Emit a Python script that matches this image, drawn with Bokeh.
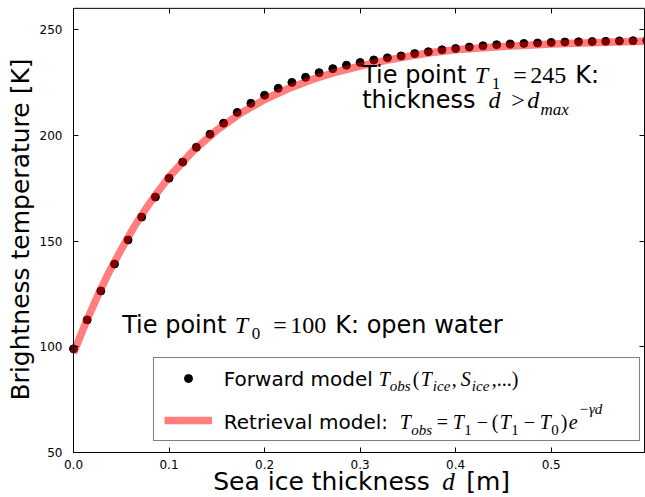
import math
from bokeh.plotting import figure
from bokeh.models import (Range1d, LinearAxis, FixedTicker, Label, Legend, LegendItem,
                          PrintfTickFormatter, CustomJSTickFormatter, BoxAnnotation)
from bokeh.embed import file_html
from bokeh.resources import INLINE

# ---- data ----
thickness_fwd = [0.0, 0.0143, 0.0286, 0.0429, 0.0571, 0.0714, 0.0857, 0.1, 0.1143, 0.1286,
                 0.1429, 0.1571, 0.1714, 0.1857, 0.2, 0.2143, 0.2286, 0.2429, 0.2571, 0.2714,
                 0.2857, 0.3, 0.3143, 0.3286, 0.3429, 0.3571, 0.3714, 0.3857, 0.4, 0.4143,
                 0.4286, 0.4429, 0.4571, 0.4714, 0.4857, 0.5, 0.5143, 0.5286, 0.5429, 0.5571,
                 0.5714, 0.5857, 0.6]
tb_fwd = [99.0, 112.7, 126.4, 139.1, 150.5, 161.3, 170.8, 179.7, 187.3, 194.3,
          200.5, 205.7, 210.8, 215.1, 218.9, 222.2, 225.0, 227.4, 229.6, 231.5,
          233.1, 234.4, 235.6, 236.6, 237.5, 238.6, 239.5, 240.4, 241.0, 241.7,
          242.3, 242.8, 243.1, 243.4, 243.6, 243.9, 244.1, 244.2, 244.3, 244.4,
          244.6, 244.7, 244.8]

thickness_ret = [0.0, 0.0125, 0.025, 0.0375, 0.05, 0.0625, 0.075, 0.0875, 0.1, 0.125,
                 0.15, 0.175, 0.2, 0.225, 0.25, 0.275, 0.3, 0.325, 0.35, 0.375,
                 0.4, 0.425, 0.45, 0.475, 0.5, 0.525, 0.55, 0.575, 0.6]
tb_ret = [97.0, 111.0, 123.8, 135.6, 146.0, 156.0, 164.8, 172.8, 180.3, 192.5,
          202.4, 210.4, 216.9, 222.1, 226.4, 229.9, 232.7, 235.2, 237.3, 239.1,
          240.4, 241.3, 242.0, 242.6, 243.1, 243.5, 243.9, 244.2, 244.5]

x_ticks = [0.0, 0.1, 0.2, 0.3, 0.4, 0.5]
y_ticks = [50, 100, 150, 200, 250]
X_LO, X_HI = 0.0, 0.5977     # axes box limits
Y_LO, Y_HI = 50, 260

# ---- geometry: the plotting frame covers the whole canvas ----
W, H = 645, 497
SANS = "DejaVu Sans"
MATH = "Liberation Serif"
BASE_FIX = 0.35   # raise texts by this fraction of their size to sit on the wanted baseline


def dx(px):
    return (px - 73) / 955.4


def dy(py):
    return 250 - (py - 29) / 2.115


p = figure(width=W, height=H, x_range=Range1d(dx(0), dx(W)), y_range=Range1d(dy(H), dy(0)),
           output_backend="svg", toolbar_location=None,
           min_border_left=0, min_border_right=0, min_border_top=0, min_border_bottom=0)
p.background_fill_color = "white"
p.border_fill_color = "white"
p.outline_line_color = None
p.xgrid.visible = False
p.ygrid.visible = False

dots = p.scatter(thickness_fwd, tb_fwd, size=8, color="black")
curve = p.line(thickness_ret, tb_ret, line_width=7.5, color="red", line_alpha=0.5)

# axes box
p.add_layout(BoxAnnotation(left=X_LO, right=X_HI, bottom=Y_LO, top=Y_HI,
                           fill_alpha=0, line_color="black", line_width=1, line_alpha=1))


def style_axis(ax):
    ax.major_tick_in = 5
    ax.major_tick_out = 0
    ax.minor_tick_in = 0
    ax.minor_tick_out = 0
    ax.axis_line_color = None
    ax.major_tick_line_color = "black"
    ax.major_label_text_font = SANS
    ax.major_label_text_font_size = "12px"
    ax.major_label_text_color = "black"


xa = p.xaxis[0]
ya = p.yaxis[0]
style_axis(xa)
style_axis(ya)
xa.ticker = FixedTicker(ticks=x_ticks)
xa.formatter = PrintfTickFormatter(format="%.1f")
xa.major_label_standoff = 7
xa.fixed_location = Y_LO
xa.bounds = (X_LO, X_HI)
ya.ticker = FixedTicker(ticks=y_ticks)
ya.major_label_standoff = 11
ya.fixed_location = X_LO
ya.bounds = (Y_LO, Y_HI)

for side, ticks, loc, bnd in (("right", y_ticks, X_HI, (Y_LO, Y_HI)),
                              ("above", x_ticks, Y_HI, (X_LO, X_HI))):
    ax = LinearAxis(ticker=FixedTicker(ticks=ticks),
                    formatter=CustomJSTickFormatter(code="return ''"))
    style_axis(ax)
    ax.major_label_text_font_size = "0px"
    ax.major_label_standoff = 0
    ax.fixed_location = loc
    ax.bounds = bnd
    p.add_layout(ax, side)

# ---- legend (box + samples); its texts are drawn as labels below it ----
leg = Legend(items=[LegendItem(label=" ", renderers=[dots]),
                    LegendItem(label=" ", renderers=[curve])],
             location=(153, H - 441), margin=0, padding=10, spacing=22,
             glyph_width=48, glyph_height=20, label_height=20, label_width=407,
             label_standoff=10, label_text_font_size="1px",
             border_line_color="black", border_line_width=1,
             background_fill_alpha=0.0)
p.add_layout(leg)


def rich(px, py, pieces):
    for txt, kind, size, ox, oy in pieces:
        p.add_layout(Label(x=dx(px), y=dy(py), x_offset=ox, y_offset=-oy + BASE_FIX * size,
                           text=txt,
                           text_font=SANS if kind == "s" else MATH,
                           text_font_style="italic" if kind == "i" else "normal",
                           text_font_size=f"{size}px", text_color="black",
                           text_align="left", text_baseline="alphabetic",
                           level="overlay"))


# upper tie point
rich(361.7, 83.3, [
    ("Tie point", "s", 24, 0, 0),
    ("T", "i", 24, 112.5, 0),
    ("1", "r", 17, 129.5, 6),
    ("=", "r", 24, 151, 0),
    ("245", "r", 24, 168, 0),
    ("K:", "s", 24, 213, 0),
    ("thickness", "s", 24, 0, 25),
    ("d", "i", 24, 126.3, 25),
    (">", "r", 24, 149, 25),
    ("d", "i", 24, 165, 25),
    ("max", "i", 17, 178.3, 32),
])

# lower tie point
rich(121.7, 333.3, [
    ("Tie point", "s", 24, 0, 0),
    ("T", "i", 24, 112.5, 0),
    ("0", "r", 17, 129.5, 6),
    ("=", "r", 24, 151, 0),
    ("100", "r", 24, 168, 0),
    ("K: open water", "s", 24, 213, 0),
])

# legend texts
rich(223.3, 385, [
    ("Forward model", "s", 20, 0, 0),
    ("T", "i", 20, 155, 0),
    ("obs", "i", 15, 166, 6),
    ("(", "r", 20, 189, 0),
    ("T", "i", 20, 197, 0),
    ("ice", "i", 15, 209, 6),
    (",", "r", 20, 228, 0),
    ("S", "i", 20, 237, 0),
    ("ice", "i", 15, 248, 6),
    (",...)", "r", 20, 268, 0),
])
rich(223.3, 428.3, [
    ("Retrieval model:", "s", 20, 0, 0),
    ("T", "i", 20, 176, 0),
    ("obs", "i", 15, 187.5, 6),
    ("=", "r", 20, 213, 0),
    ("T", "i", 20, 229, 0),
    ("1", "r", 15, 240.5, 6),
    ("\u2212", "r", 20, 253, 0),
    ("(", "r", 20, 268, 0),
    ("T", "i", 20, 276, 0),
    ("1", "r", 15, 287.5, 6),
    ("\u2212", "r", 20, 300, 0),
    ("T", "i", 20, 316, 0),
    ("0", "r", 15, 327.5, 6),
    (")", "r", 20, 337, 0),
    ("e", "i", 20, 345, 0),
    ("\u2212\u03b3d", "i", 15, 355, -15),
])

# x axis title
rich(212.7, 490, [
    ("Sea ice thickness", "s", 25, 0, 0),
    ("d", "i", 25, 229, 0),
    ("[m]", "s", 25, 253, 0),
])

# y axis title (rotated; baseline correction acts sideways)
p.add_layout(Label(x=dx(29), y=dy(229), x_offset=-BASE_FIX * 25,
                   text="Brightness temperature [K]", angle=math.pi / 2,
                   text_font=SANS, text_font_size="25px", text_color="black",
                   text_align="center", text_baseline="alphabetic", level="overlay"))

open("out.html", "w").write(file_html(p, INLINE))
